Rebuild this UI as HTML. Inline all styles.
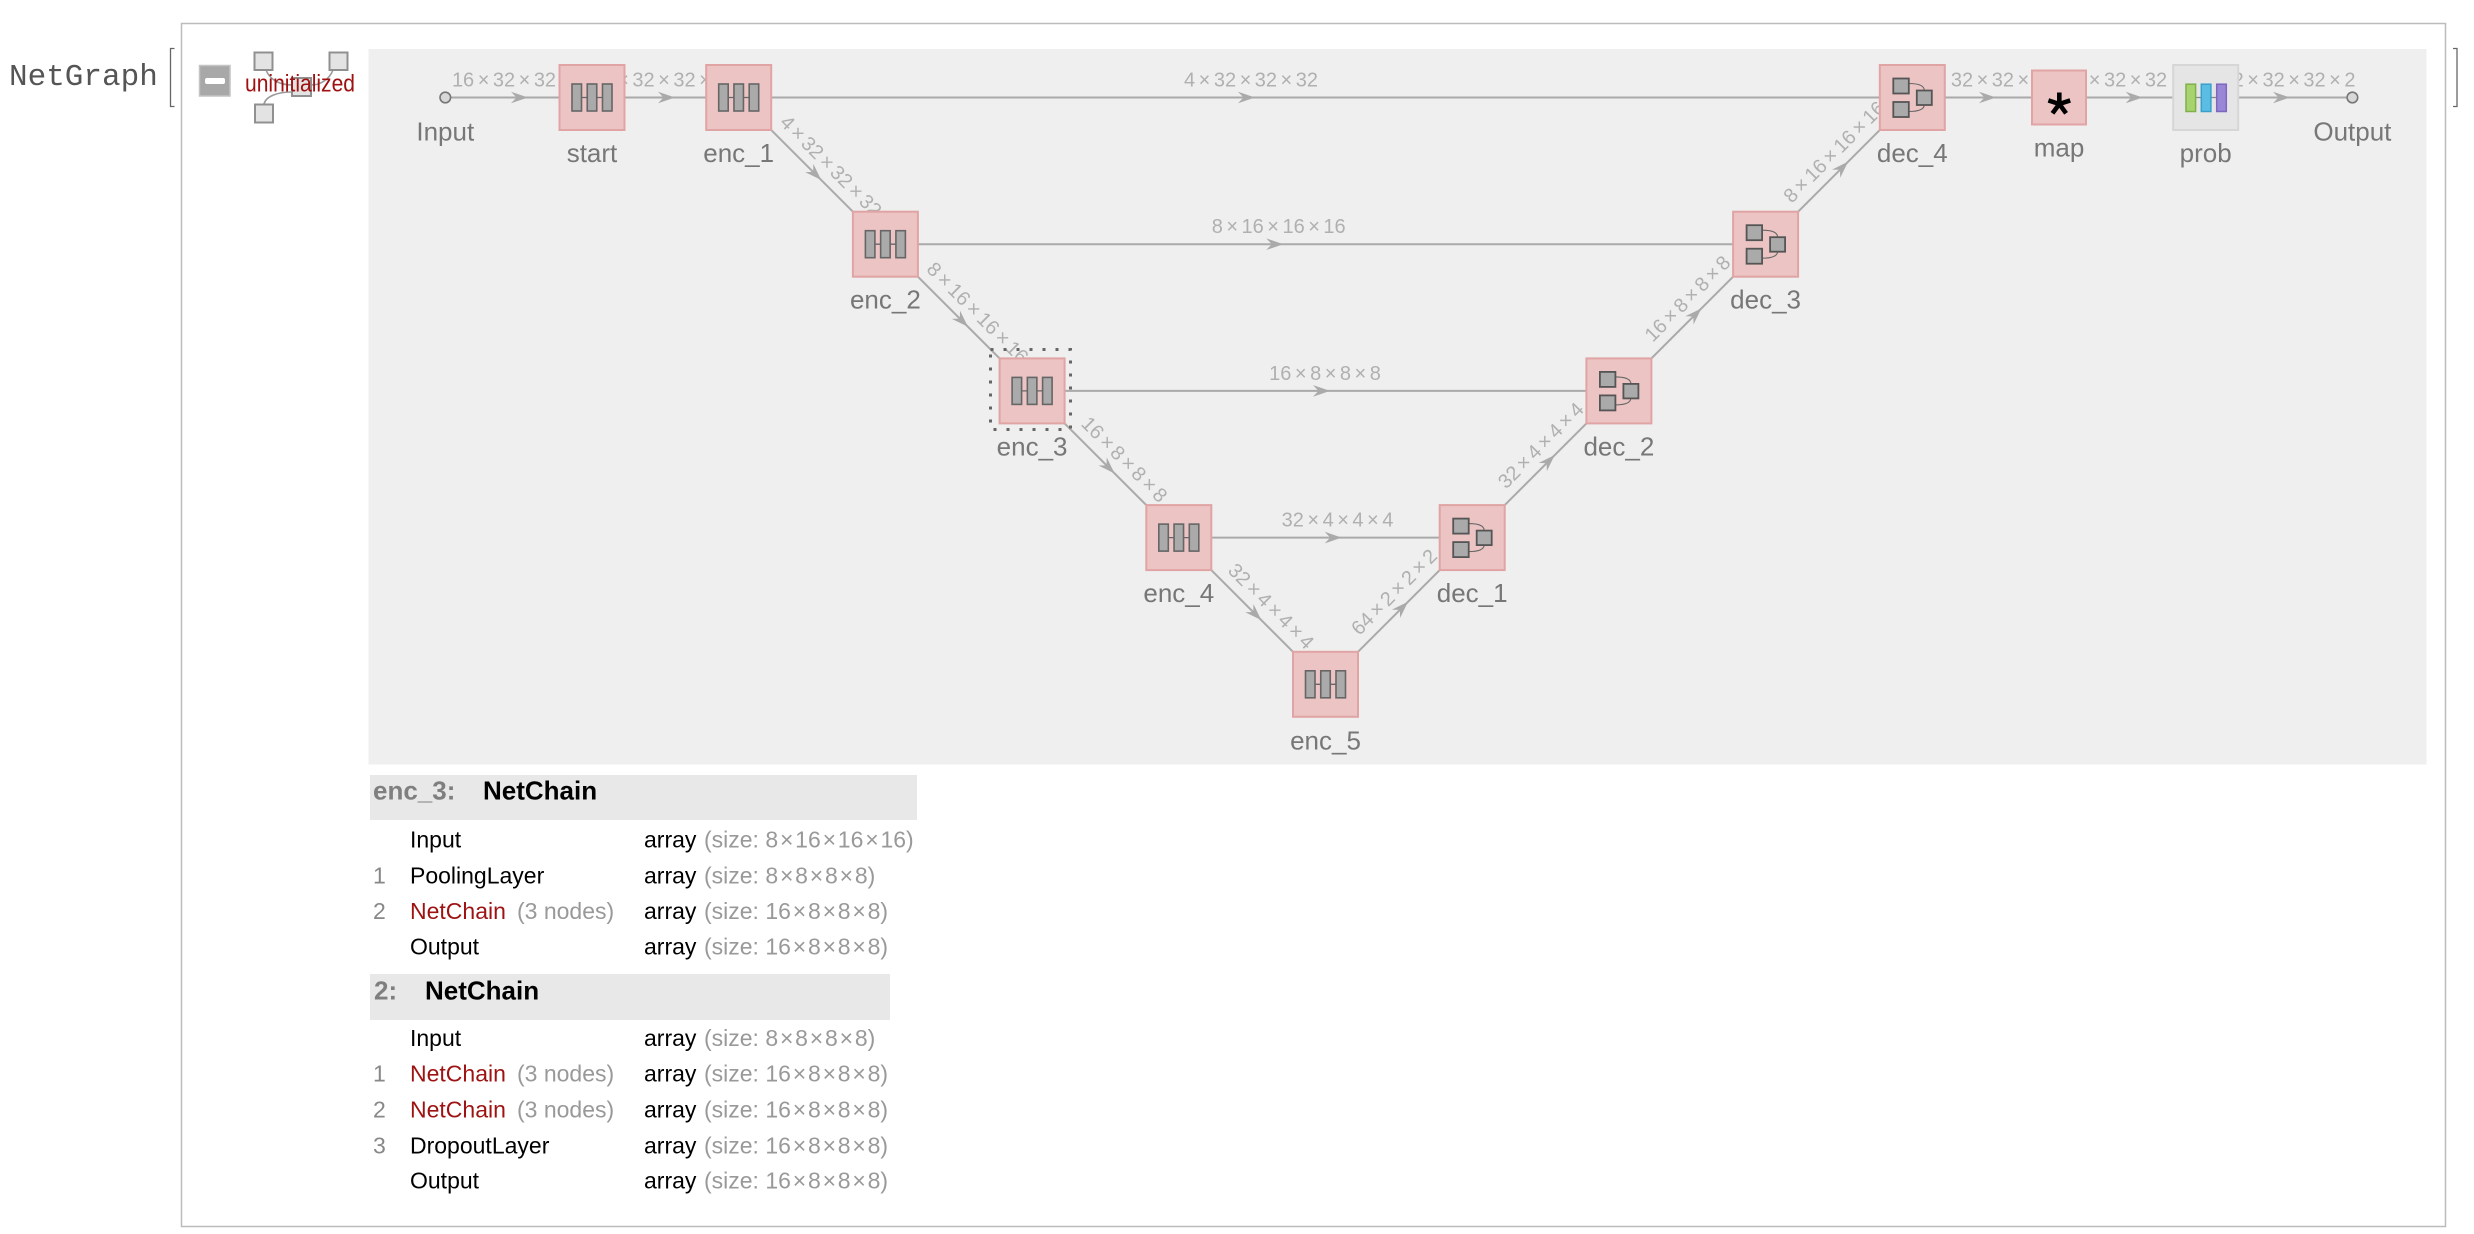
<!DOCTYPE html>
<html><head><meta charset="utf-8"><style>
html,body{margin:0;padding:0;background:#fff;}
svg{display:block;}
.el{font-family:"Liberation Sans",Arial,sans-serif;font-size:20px;fill:#b0b0b0;text-anchor:middle;}
.nl{font-family:"Liberation Sans",Arial,sans-serif;font-size:26px;fill:#777;text-anchor:middle;}
.tb{font-family:"Liberation Sans",Arial,sans-serif;font-size:23px;fill:#000;}
.g{fill:#999;}
.ix{fill:#888;}
.red{fill:#9e1212;}
.hd{font-family:"Liberation Sans",Arial,sans-serif;font-size:26px;font-weight:bold;}
</style></head><body>
<svg width="2474" height="1234" viewBox="0 0 2474 1234" xmlns="http://www.w3.org/2000/svg">
<defs>
  <g id="encI">
    <line x1="-11" y1="0" x2="11" y2="0" stroke="#666" stroke-width="1.3"/>
    <rect x="-20" y="-13.5" width="9.5" height="27" fill="#aaa" stroke="#666" stroke-width="1.6"/>
    <rect x="-4.75" y="-13.5" width="9.5" height="27" fill="#aaa" stroke="#666" stroke-width="1.6"/>
    <rect x="10.5" y="-13.5" width="9.5" height="27" fill="#aaa" stroke="#666" stroke-width="1.6"/>
  </g>
  <g id="decI">
    <path d="M-3.5,-14 C6,-14 12,-12 12,-7 M-3.5,14 C6,14 12,12 12,7" fill="none" stroke="#666" stroke-width="1.1"/>
    <rect x="-19" y="-19" width="15.5" height="15" fill="#aaa" stroke="#555" stroke-width="1.8"/>
    <rect x="-19" y="4.5" width="15.5" height="15" fill="#aaa" stroke="#555" stroke-width="1.8"/>
    <rect x="4.5" y="-7" width="15" height="14.5" fill="#aaa" stroke="#555" stroke-width="1.8"/>
  </g>
  <path id="arr" d="M0,0 L-17,-5.8 L-11.5,0 L-17,5.8 Z" fill="#aaa"/>
</defs>

<!-- NetGraph head -->
<text x="9" y="85" style="font-family:'Liberation Mono',monospace;font-size:31px;fill:#555;">NetGraph</text>
<path d="M174.5,48.5 H170.5 V106.5 H174.5" fill="none" stroke="#666" stroke-width="1.3"/>
<path d="M2453,48.5 H2457 V106.5 H2453" fill="none" stroke="#666" stroke-width="1.3"/>

<!-- outer box -->
<rect x="181.5" y="23.5" width="2264" height="1203" fill="#fff" stroke="#bcbcbc" stroke-width="1.5"/>

<!-- minus button -->
<rect x="199.5" y="65.5" width="30.5" height="30.5" fill="#a8a8a8" stroke="#c4c4c4" stroke-width="1.5"/>
<rect x="205" y="78" width="20" height="6" rx="2" fill="#fff"/>

<!-- small graph icon -->
<path d="M266,70 C270,80 280,85 292,85 M333,70 C329,80 320,85 311,85 M264,104 C266,96 278,92 292,92" fill="none" stroke="#999" stroke-width="1.6"/>
<rect x="254.5" y="52.5" width="18" height="17.5" fill="#e3e3e3" stroke="#909090" stroke-width="2"/>
<rect x="329.5" y="52.5" width="18" height="17.5" fill="#e3e3e3" stroke="#909090" stroke-width="2"/>
<rect x="255" y="104.5" width="18" height="18" fill="#e3e3e3" stroke="#909090" stroke-width="2"/>
<rect x="292" y="78" width="19" height="18" fill="#e3e3e3" stroke="#909090" stroke-width="2"/>
<text x="245" y="91.5" textLength="110" lengthAdjust="spacingAndGlyphs" style="font-family:'Liberation Sans',Arial,sans-serif;font-size:24px;fill:#a01010;">uninitialized</text>

<!-- panel -->
<rect x="368.5" y="49" width="2058" height="715.5" fill="#efefef"/>

<!-- edges -->
<g fill="none" stroke="#aaa" stroke-width="2">
  <line x1="450.6" y1="97.5" x2="2347" y2="97.5"/>
  <line x1="885.4" y1="244.2" x2="1765.6" y2="244.2"/>
  <line x1="1032.1" y1="390.9" x2="1618.9" y2="390.9"/>
  <line x1="1178.8" y1="537.6" x2="1472.2" y2="537.6"/>
  <polyline points="738.7,97.5 885.4,244.2 1032.1,390.9 1178.8,537.6 1325.5,684.3 1472.2,537.6 1618.9,390.9 1765.6,244.2 1912.3,97.5"/>
</g>

<!-- horizontal edge labels -->
<text class="el" x="504" y="86.5">16<tspan dx="3.5">×</tspan><tspan dx="3.5">32</tspan><tspan dx="3.5">×</tspan><tspan dx="3.5">32</tspan></text>
<text class="el" x="664" y="86.5">16<tspan dx="3.5">×</tspan><tspan dx="3.5">32</tspan><tspan dx="3.5">×</tspan><tspan dx="3.5">32</tspan><tspan dx="3.5">×</tspan><tspan dx="3.5">32</tspan></text>
<text class="el" x="1251" y="86.5">4<tspan dx="3.5">×</tspan><tspan dx="3.5">32</tspan><tspan dx="3.5">×</tspan><tspan dx="3.5">32</tspan><tspan dx="3.5">×</tspan><tspan dx="3.5">32</tspan></text>
<text class="el" x="1988" y="86.5">4<tspan dx="3.5">×</tspan><tspan dx="3.5">32</tspan><tspan dx="3.5">×</tspan><tspan dx="3.5">32</tspan><tspan dx="3.5">×</tspan><tspan dx="3.5">32</tspan></text>
<text class="el" x="2130" y="86.5">32<tspan dx="3.5">×</tspan><tspan dx="3.5">32</tspan><tspan dx="3.5">×</tspan><tspan dx="3.5">32</tspan><tspan dx="3.5">×</tspan><tspan dx="3.5">4</tspan></text>
<text class="el" x="2288.5" y="86.5">32<tspan dx="3.5">×</tspan><tspan dx="3.5">32</tspan><tspan dx="3.5">×</tspan><tspan dx="3.5">32</tspan><tspan dx="3.5">×</tspan><tspan dx="3.5">2</tspan></text>
<text class="el" x="1278.7" y="233.2">8<tspan dx="3.5">×</tspan><tspan dx="3.5">16</tspan><tspan dx="3.5">×</tspan><tspan dx="3.5">16</tspan><tspan dx="3.5">×</tspan><tspan dx="3.5">16</tspan></text>
<text class="el" x="1325" y="379.9">16<tspan dx="3.5">×</tspan><tspan dx="3.5">8</tspan><tspan dx="3.5">×</tspan><tspan dx="3.5">8</tspan><tspan dx="3.5">×</tspan><tspan dx="3.5">8</tspan></text>
<text class="el" x="1337.5" y="526.6">32<tspan dx="3.5">×</tspan><tspan dx="3.5">4</tspan><tspan dx="3.5">×</tspan><tspan dx="3.5">4</tspan><tspan dx="3.5">×</tspan><tspan dx="3.5">4</tspan></text>

<!-- diagonal edge labels -->
<text class="el" transform="translate(826.2,170.85) rotate(45)">4<tspan dx="3.5">×</tspan><tspan dx="3.5">32</tspan><tspan dx="3.5">×</tspan><tspan dx="3.5">32</tspan><tspan dx="3.5">×</tspan><tspan dx="3.5">32</tspan></text>
<text class="el" transform="translate(972.9,317.55) rotate(45)">8<tspan dx="3.5">×</tspan><tspan dx="3.5">16</tspan><tspan dx="3.5">×</tspan><tspan dx="3.5">16</tspan><tspan dx="3.5">×</tspan><tspan dx="3.5">16</tspan></text>
<text class="el" transform="translate(1119.6,464.25) rotate(45)">16<tspan dx="3.5">×</tspan><tspan dx="3.5">8</tspan><tspan dx="3.5">×</tspan><tspan dx="3.5">8</tspan><tspan dx="3.5">×</tspan><tspan dx="3.5">8</tspan></text>
<text class="el" transform="translate(1266.3,610.95) rotate(45)">32<tspan dx="3.5">×</tspan><tspan dx="3.5">4</tspan><tspan dx="3.5">×</tspan><tspan dx="3.5">4</tspan><tspan dx="3.5">×</tspan><tspan dx="3.5">4</tspan></text>
<text class="el" transform="translate(1398.85,596.8) rotate(-45)">64<tspan dx="3.5">×</tspan><tspan dx="3.5">2</tspan><tspan dx="3.5">×</tspan><tspan dx="3.5">2</tspan><tspan dx="3.5">×</tspan><tspan dx="3.5">2</tspan></text>
<text class="el" transform="translate(1545.55,450.1) rotate(-45)">32<tspan dx="3.5">×</tspan><tspan dx="3.5">4</tspan><tspan dx="3.5">×</tspan><tspan dx="3.5">4</tspan><tspan dx="3.5">×</tspan><tspan dx="3.5">4</tspan></text>
<text class="el" transform="translate(1692.25,303.4) rotate(-45)">16<tspan dx="3.5">×</tspan><tspan dx="3.5">8</tspan><tspan dx="3.5">×</tspan><tspan dx="3.5">8</tspan><tspan dx="3.5">×</tspan><tspan dx="3.5">8</tspan></text>
<text class="el" transform="translate(1838.95,156.7) rotate(-45)">8<tspan dx="3.5">×</tspan><tspan dx="3.5">16</tspan><tspan dx="3.5">×</tspan><tspan dx="3.5">16</tspan><tspan dx="3.5">×</tspan><tspan dx="3.5">16</tspan></text>

<!-- arrowheads -->
<use href="#arr" transform="translate(528,97.5)"/>
<use href="#arr" transform="translate(675,97.5)"/>
<use href="#arr" transform="translate(1255,97.5)"/>
<use href="#arr" transform="translate(1996,97.5)"/>
<use href="#arr" transform="translate(2142.7,97.5)"/>
<use href="#arr" transform="translate(2290,97.5)"/>
<use href="#arr" transform="translate(1283.3,244.2)"/>
<use href="#arr" transform="translate(1330,390.9)"/>
<use href="#arr" transform="translate(1341.7,537.6)"/>
<use href="#arr" transform="translate(821.25,180.05) rotate(45)"/>
<use href="#arr" transform="translate(967.95,326.75) rotate(45)"/>
<use href="#arr" transform="translate(1114.65,473.45) rotate(45)"/>
<use href="#arr" transform="translate(1261.35,620.15) rotate(45)"/>
<use href="#arr" transform="translate(1408.05,601.75) rotate(-45)"/>
<use href="#arr" transform="translate(1554.75,455.05) rotate(-45)"/>
<use href="#arr" transform="translate(1701.45,308.35) rotate(-45)"/>
<use href="#arr" transform="translate(1848.15,161.65) rotate(-45)"/>

<!-- Input / Output ports -->
<circle cx="445.3" cy="97.5" r="5.3" fill="#d8d8d8" stroke="#777" stroke-width="1.6"/>
<circle cx="2352.4" cy="97.5" r="5.3" fill="#d8d8d8" stroke="#777" stroke-width="1.6"/>

<!-- selection box around enc_3 -->
<rect x="990.5" y="349.5" width="80" height="80" fill="none" stroke="#666" stroke-width="3" stroke-dasharray="3 10"/>

<!-- nodes -->
<g fill="#ecc4c4" stroke="#e0a4a4" stroke-width="2">
  <rect x="559.5" y="65" width="65" height="65"/>
  <rect x="706.2" y="65" width="65" height="65"/>
  <rect x="852.9" y="211.7" width="65" height="65"/>
  <rect x="999.6" y="358.4" width="65" height="65"/>
  <rect x="1146.3" y="505.1" width="65" height="65"/>
  <rect x="1293" y="651.8" width="65" height="65"/>
  <rect x="1439.7" y="505.1" width="65" height="65"/>
  <rect x="1586.4" y="358.4" width="65" height="65"/>
  <rect x="1733.1" y="211.7" width="65" height="65"/>
  <rect x="1879.8" y="65" width="65" height="65"/>
  <rect x="2032" y="70.5" width="54" height="54"/>
</g>
<rect x="2173.2" y="65" width="65" height="65" fill="#e5e5e5" stroke="#d6d6d6" stroke-width="2"/>

<use href="#encI" transform="translate(592,97.5)"/>
<use href="#encI" transform="translate(738.7,97.5)"/>
<use href="#encI" transform="translate(885.4,244.2)"/>
<use href="#encI" transform="translate(1032.1,390.9)"/>
<use href="#encI" transform="translate(1178.8,537.6)"/>
<use href="#encI" transform="translate(1325.5,684.3)"/>
<use href="#decI" transform="translate(1472.2,537.6)"/>
<use href="#decI" transform="translate(1618.9,390.9)"/>
<use href="#decI" transform="translate(1765.6,244.2)"/>
<use href="#decI" transform="translate(1912.3,97.5)"/>

<!-- map asterisk -->
<g transform="translate(2059.3,104)" stroke="#000" stroke-width="4.6">
  <line x1="0" y1="0" x2="0" y2="-11.5"/>
  <line x1="0" y1="0" x2="-10.9" y2="-3.6"/>
  <line x1="0" y1="0" x2="10.9" y2="-3.6"/>
  <line x1="0" y1="0" x2="-6.8" y2="9.3"/>
  <line x1="0" y1="0" x2="6.8" y2="9.3"/>
</g>

<!-- prob icon -->
<g transform="translate(2205.7,97.5)">
  <line x1="-10" y1="0" x2="11" y2="0" stroke="#888" stroke-width="1.3"/>
  <rect x="-19.7" y="-13.3" width="9.6" height="27.3" fill="#a8d46f" stroke="#7fb04a" stroke-width="1.5"/>
  <rect x="-4.4" y="-13.3" width="9.6" height="27.3" fill="#5bbde4" stroke="#3b9fcc" stroke-width="1.5"/>
  <rect x="11" y="-13.3" width="9.6" height="27.3" fill="#9a86d6" stroke="#7d67bf" stroke-width="1.5"/>
</g>

<!-- node labels -->
<text class="nl" x="445.3" y="140.5">Input</text>
<text class="nl" x="592" y="162">start</text>
<text class="nl" x="738.7" y="162">enc_1</text>
<text class="nl" x="885.4" y="308.7">enc_2</text>
<text class="nl" x="1032.1" y="455.4">enc_3</text>
<text class="nl" x="1178.8" y="602.1">enc_4</text>
<text class="nl" x="1325.5" y="749.5">enc_5</text>
<text class="nl" x="1472.2" y="602.1">dec_1</text>
<text class="nl" x="1618.9" y="455.4">dec_2</text>
<text class="nl" x="1765.6" y="308.7">dec_3</text>
<text class="nl" x="1912.3" y="162">dec_4</text>
<text class="nl" x="2059" y="156.5">map</text>
<text class="nl" x="2205.7" y="162">prob</text>
<text class="nl" x="2352.4" y="140.5">Output</text>

<!-- table 1 -->
<rect x="370" y="775" width="547" height="45" fill="#e8e8e8"/>
<text class="hd" x="373" y="799.3" fill="#7f7f7f">enc_3:</text>
<text class="hd" x="483" y="799.3" fill="#000">NetChain</text>

<g class="tb">
<text class="tb" x="410" y="847.7">Input</text>
<text class="tb" x="644" y="847.7">array</text>
<text class="tb g" x="704" y="847.7">(size: 8<tspan dx="1.8">×</tspan><tspan dx="1.8">16</tspan><tspan dx="1.8">×</tspan><tspan dx="1.8">16</tspan><tspan dx="1.8">×</tspan><tspan dx="1.8">16)</tspan></text>

<text class="tb ix" x="373" y="883.3">1</text>
<text class="tb" x="410" y="883.3">PoolingLayer</text>
<text class="tb" x="644" y="883.3">array</text>
<text class="tb g" x="704" y="883.3">(size: 8<tspan dx="1.8">×</tspan><tspan dx="1.8">8</tspan><tspan dx="1.8">×</tspan><tspan dx="1.8">8</tspan><tspan dx="1.8">×</tspan><tspan dx="1.8">8)</tspan></text>

<text class="tb ix" x="373" y="919">2</text>
<text class="tb red" x="410" y="919">NetChain</text>
<text class="tb g" x="517" y="919">(3 nodes)</text>
<text class="tb" x="644" y="919">array</text>
<text class="tb g" x="704" y="919">(size: 16<tspan dx="1.8">×</tspan><tspan dx="1.8">8</tspan><tspan dx="1.8">×</tspan><tspan dx="1.8">8</tspan><tspan dx="1.8">×</tspan><tspan dx="1.8">8)</tspan></text>

<text class="tb" x="410" y="954.3">Output</text>
<text class="tb" x="644" y="954.3">array</text>
<text class="tb g" x="704" y="954.3">(size: 16<tspan dx="1.8">×</tspan><tspan dx="1.8">8</tspan><tspan dx="1.8">×</tspan><tspan dx="1.8">8</tspan><tspan dx="1.8">×</tspan><tspan dx="1.8">8)</tspan></text>
</g>

<!-- table 2 -->
<rect x="370" y="974" width="520" height="46" fill="#e8e8e8"/>
<text class="hd" x="374" y="999.3" fill="#7f7f7f">2:</text>
<text class="hd" x="425" y="999.3" fill="#000">NetChain</text>

<g>
<text class="tb" x="410" y="1046">Input</text>
<text class="tb" x="644" y="1046">array</text>
<text class="tb g" x="704" y="1046">(size: 8<tspan dx="1.8">×</tspan><tspan dx="1.8">8</tspan><tspan dx="1.8">×</tspan><tspan dx="1.8">8</tspan><tspan dx="1.8">×</tspan><tspan dx="1.8">8)</tspan></text>

<text class="tb ix" x="373" y="1081.7">1</text>
<text class="tb red" x="410" y="1081.7">NetChain</text>
<text class="tb g" x="517" y="1081.7">(3 nodes)</text>
<text class="tb" x="644" y="1081.7">array</text>
<text class="tb g" x="704" y="1081.7">(size: 16<tspan dx="1.8">×</tspan><tspan dx="1.8">8</tspan><tspan dx="1.8">×</tspan><tspan dx="1.8">8</tspan><tspan dx="1.8">×</tspan><tspan dx="1.8">8)</tspan></text>

<text class="tb ix" x="373" y="1117.3">2</text>
<text class="tb red" x="410" y="1117.3">NetChain</text>
<text class="tb g" x="517" y="1117.3">(3 nodes)</text>
<text class="tb" x="644" y="1117.3">array</text>
<text class="tb g" x="704" y="1117.3">(size: 16<tspan dx="1.8">×</tspan><tspan dx="1.8">8</tspan><tspan dx="1.8">×</tspan><tspan dx="1.8">8</tspan><tspan dx="1.8">×</tspan><tspan dx="1.8">8)</tspan></text>

<text class="tb ix" x="373" y="1153.3">3</text>
<text class="tb" x="410" y="1153.3">DropoutLayer</text>
<text class="tb" x="644" y="1153.3">array</text>
<text class="tb g" x="704" y="1153.3">(size: 16<tspan dx="1.8">×</tspan><tspan dx="1.8">8</tspan><tspan dx="1.8">×</tspan><tspan dx="1.8">8</tspan><tspan dx="1.8">×</tspan><tspan dx="1.8">8)</tspan></text>

<text class="tb" x="410" y="1188.3">Output</text>
<text class="tb" x="644" y="1188.3">array</text>
<text class="tb g" x="704" y="1188.3">(size: 16<tspan dx="1.8">×</tspan><tspan dx="1.8">8</tspan><tspan dx="1.8">×</tspan><tspan dx="1.8">8</tspan><tspan dx="1.8">×</tspan><tspan dx="1.8">8)</tspan></text>
</g>
</svg>
</body></html>
